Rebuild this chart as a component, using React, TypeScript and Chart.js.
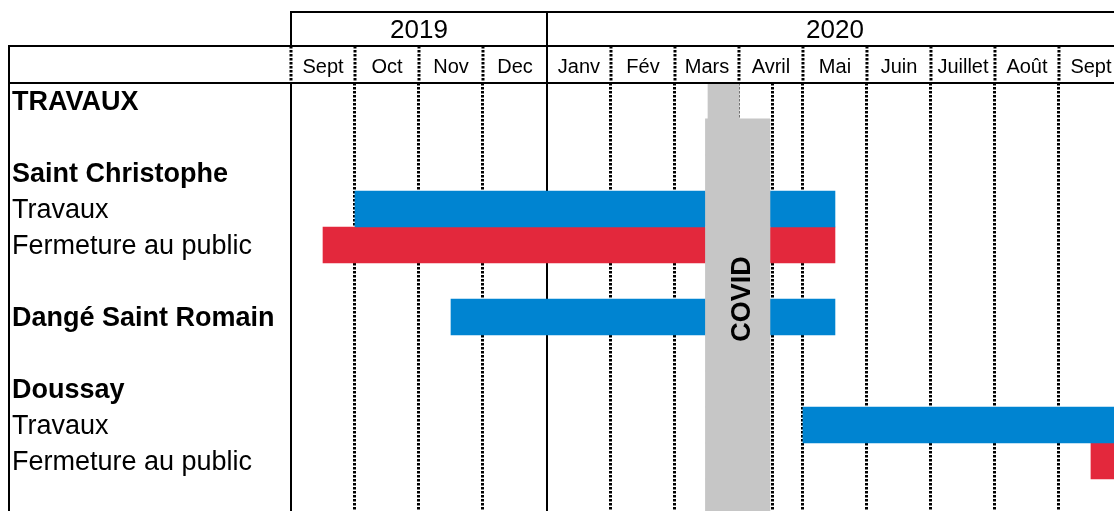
import { useEffect, useRef } from 'react';
import { Chart, registerables } from 'chart.js';

Chart.register(...registerables);

// Row labels (y categories) and which are bold
const rowLabels = [
  'TRAVAUX',
  '',
  'Saint Christophe',
  'Travaux',
  'Fermeture au public',
  '',
  'Dangé Saint Romain',
  '',
  'Doussay',
  'Travaux',
  'Fermeture au public',
  '',
];
const boldRows = [true, false, true, false, false, false, true, false, true, false, false, false];

// Header labels (x in months counted from 1 Sept 2019)
const monthLabels = ['Sept', 'Oct', 'Nov', 'Dec', 'Janv', 'Fév', 'Mars', 'Avril', 'Mai', 'Juin', 'Juillet', 'Août', 'Sept'];
const yearLabels = ['2019', '2020'];
const yearStartMonth = [0, 4];
const yearEndMonth = [4, 13];

// Bars: [start, end] in months from 1 Sept 2019
const travauxBars: ([number, number] | null)[] = [null, null, null, [1, 8.5], null, null, [2.5, 8.5], null, null, [8, 13], null, null];
const fermetureBars: ([number, number] | null)[] = [null, null, null, null, [0.5, 8.5], null, null, null, null, null, [12.5, 13], null];
const covidBars: ([number, number] | null)[] = [
  [6.52, 7.0],
  [6.48, 7.48],
  [6.48, 7.48],
  [6.48, 7.48],
  [6.48, 7.48],
  [6.48, 7.48],
  [6.48, 7.48],
  [6.48, 7.48],
  [6.48, 7.48],
  [6.48, 7.48],
  [6.48, 7.48],
  [6.48, 7.48],
];
const covidLabel = 'COVID';
const covidLabelMonth = 7.05;
const covidLabelRow = 5.5;

// Grid lines in the body (months); solid ones at year starts
const bodyGridMonths = [0, 1, 2, 3, 4, 5, 6, 7, 7.53, 8, 9, 10, 11, 12];
const solidGridMonths = [0, 4];
const xMax = 12.86;

const FONT = '"Liberation Sans", Arial, sans-serif';
const BLUE = '#0084D1';
const RED = '#E3283C';
const GREY = '#C6C6C6';
const DOT = [2.5, 1.5];

export default function App() {
  const ref = useRef<HTMLCanvasElement | null>(null);

  useEffect(() => {
    if (!ref.current) return;
    const COVID_INDEX = 2;

    const ganttPlugin = {
      id: 'gantt',
      beforeDatasetDraw(_chart: any, args: any) {
        if (args.index === COVID_INDEX) return false;
        return true;
      },
      afterDraw(chart: any) {
        const ctx: CanvasRenderingContext2D = chart.ctx;
        const xs = chart.scales.x;
        const ys = chart.scales.y;
        const area = chart.chartArea;
        const right = chart.width;
        const bottom = chart.height;
        const yTop = 12;
        const yMid = 46;
        const yHead = area.top;
        const xLeft = 9;

        // COVID band drawn over the grid
        const meta = chart.getDatasetMeta(COVID_INDEX);
        meta.data.forEach((el: any) => el.draw(ctx, area));

        ctx.save();
        ctx.fillStyle = '#000';
        ctx.font = `bold 27px ${FONT}`;
        ctx.translate(xs.getPixelForValue(covidLabelMonth), ys.getPixelForValue(covidLabelRow));
        ctx.rotate(-Math.PI / 2);
        ctx.textAlign = 'center';
        ctx.textBaseline = 'middle';
        ctx.fillText(covidLabel, 0, 0);
        ctx.restore();

        // Header
        ctx.save();
        ctx.strokeStyle = '#000';
        const line = (x1: number, y1: number, x2: number, y2: number, dash: number[] = [], w = 2) => {
          ctx.save();
          ctx.lineWidth = w;
          ctx.setLineDash(dash);
          ctx.beginPath();
          ctx.moveTo(x1, y1);
          ctx.lineTo(x2, y2);
          ctx.stroke();
          ctx.restore();
        };
        const x0 = xs.getPixelForValue(0);
        line(x0, yTop, right, yTop);
        line(xLeft, yMid, right, yMid);
        line(xLeft, yHead, right, yHead);
        line(xLeft, yMid - 1, xLeft, bottom);
        yearStartMonth.forEach((m) => {
          const px = xs.getPixelForValue(m);
          line(px, yTop - 1, px, yMid);
        });
        for (let m = 0; m < monthLabels.length; m++) {
          const px = xs.getPixelForValue(m);
          if (solidGridMonths.includes(m) && m !== 0) line(px, yMid, px, yHead);
          else line(px, yMid, px, yHead, DOT, 3);
        }
        ctx.fillStyle = '#000';
        ctx.textAlign = 'center';
        ctx.textBaseline = 'alphabetic';
        ctx.font = `26px ${FONT}`;
        yearLabels.forEach((lab, i) => {
          const cx = (xs.getPixelForValue(yearStartMonth[i]) + xs.getPixelForValue(yearEndMonth[i])) / 2;
          ctx.fillText(lab, cx, 38);
        });
        ctx.font = `20px ${FONT}`;
        monthLabels.forEach((lab, i) => {
          const cx = (xs.getPixelForValue(i) + xs.getPixelForValue(i + 1)) / 2;
          ctx.fillText(lab, cx, 73);
        });
        ctx.restore();
      },
    };

    const barCommon = {
      grouped: false,
      barPercentage: 1,
      categoryPercentage: 1,
      borderWidth: 0,
    };

    const chart = new Chart(ref.current, {
      type: 'bar',
      data: {
        labels: rowLabels,
        datasets: [
          { ...barCommon, label: 'Travaux', data: travauxBars as any, backgroundColor: BLUE },
          { ...barCommon, label: 'Fermeture au public', data: fermetureBars as any, backgroundColor: RED },
          { ...barCommon, label: 'COVID', data: covidBars as any, backgroundColor: GREY, inflateAmount: 0.6 },
        ],
      },
      options: {
        indexAxis: 'y',
        responsive: false,
        maintainAspectRatio: false,
        animation: false,
        layout: { padding: { top: 83, left: 12, right: 0, bottom: 0 } },
        plugins: {
          legend: { display: false },
          tooltip: { enabled: false },
        },
        scales: {
          x: {
            type: 'linear',
            position: 'top',
            min: 0,
            max: xMax,
            z: 1,
            afterBuildTicks: (s: any) => {
              s.ticks = bodyGridMonths.map((v) => ({ value: v }));
            },
            ticks: { display: false },
            grid: {
              drawTicks: false,
              color: '#000',
              lineWidth: (c: any) => (solidGridMonths.includes(c.tick?.value) ? 2 : 3),
            },
            border: {
              display: false,
              dash: (c: any) => (solidGridMonths.includes(c.tick?.value) ? [] : DOT),
            },
          },
          y: {
            type: 'category',
            grid: { display: false },
            border: { display: false },
            ticks: {
              autoSkip: false,
              crossAlign: 'far',
              padding: 0,
              labelOffset: 2,
              color: '#000',
              font: (c: any) => ({ family: FONT, size: 27, weight: boldRows[c.index] ? 'bold' : 'normal' }),
            },
            afterFit: (s: any) => {
              s.width = 279;
              s.paddingTop = 0;
              s.paddingBottom = 0;
            },
          },
        },
      } as any,
      plugins: [ganttPlugin],
    });

    return () => chart.destroy();
  }, []);

  return (
    <div style={{ position: 'fixed', left: 0, top: 0, width: 1114, height: 511, overflow: 'hidden', background: '#fff' }}>
      <canvas ref={ref} width={1114} height={515} style={{ display: 'block' }} />
    </div>
  );
}
